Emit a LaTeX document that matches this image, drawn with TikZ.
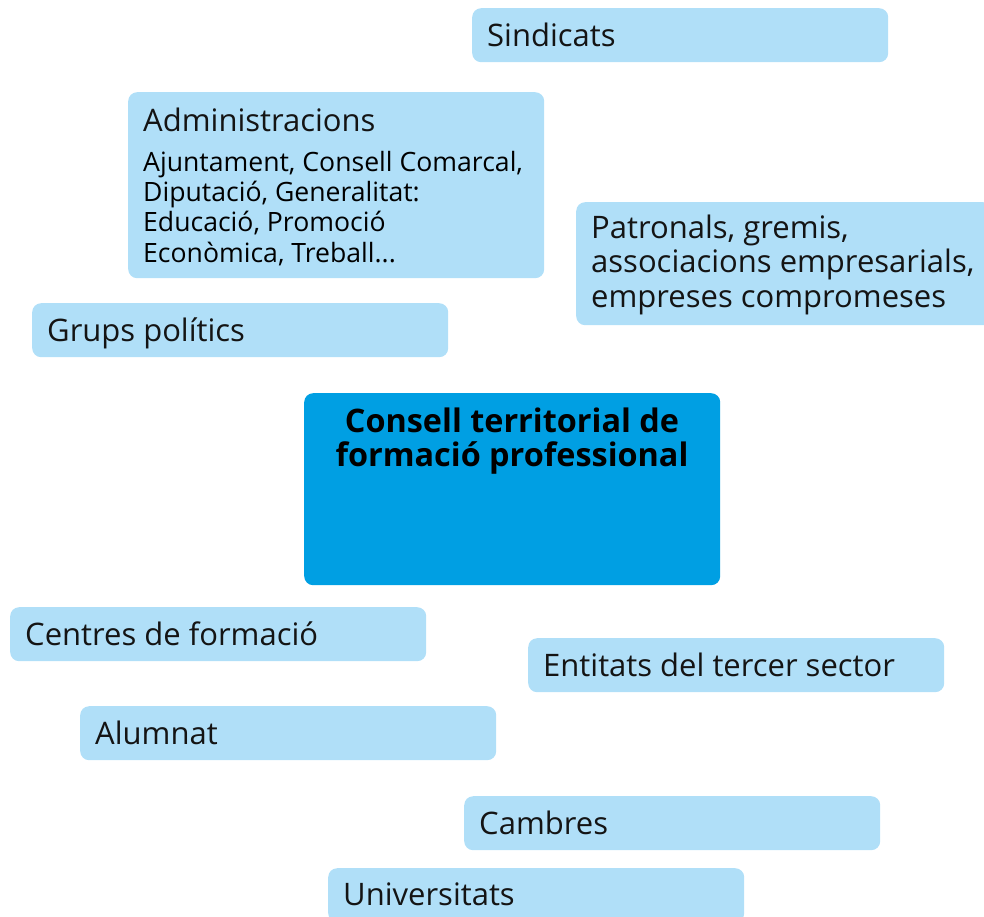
\documentclass[tikz,border=0pt]{standalone}
\usepackage{fontspec}
\setmainfont{Open Sans}
\definecolor{lightbox}{RGB}{176,223,248}
\definecolor{darkbox}{RGB}{0,159,227}
\definecolor{txt}{RGB}{20,20,20}
\begin{document}
\begin{tikzpicture}[x=1pt,y=-1pt,
  lbox/.style={fill=lightbox, draw=none, rounded corners=9pt, minimum width=416pt, minimum height=54pt, anchor=north west, inner sep=0pt},
  ltext/.style={anchor=base west, inner sep=0pt, text=txt, font=\fontsize{31}{34.5}\selectfont, align=left},
  stext/.style={anchor=base west, inner sep=0pt, text=black, font=\fontsize{26.6}{30.3}\selectfont, align=left},
  ttext/.style={anchor=base, inner sep=0pt, text=black, font=\fontsize{32.4}{34}\selectfont\bfseries, align=center}]
\useasboundingbox (0,0) rectangle (984,917);
% boxes
\node[lbox] (sind) at (472,8) {};
\node[lbox, minimum height=186pt] (admin) at (128,92) {};
\node[lbox, minimum height=123pt] (patr) at (576,202) {};
\node[lbox] (grups) at (32,303) {};
\node[fill=darkbox, draw=none, rounded corners=9pt, minimum width=416pt, minimum height=192pt, anchor=north west, inner sep=0pt] (cons) at (304,393) {};
\node[lbox] (centres) at (10,607) {};
\node[lbox] (entitats) at (528,638) {};
\node[lbox] (alum) at (80,706) {};
\node[lbox] (camb) at (464,796) {};
\node[lbox] (univ) at (328,868) {};
% texts (multi-line nodes: base anchor is the last line's baseline)
\node[ltext] (sindt) at (487,47) {Sindicats};
\node[ltext] (admint) at (143,132) {Administracions};
\node[stext] (admins) at (143,262) {Ajuntament, Consell Comarcal,\\Diputació, Generalitat:\\Educació, Promoció\\Econòmica, Treball...};
\node[ltext] (patrt) at (591,307) {Patronals, gremis,\\associacions empresarials,\\empreses compromeses};
\node[ltext] (grupst) at (47,341) {Grups polítics};
\node[ttext] (const) at (512,466) {Consell territorial de\\formació professional};
\node[ltext] (centrest) at (25,645) {Centres de formació};
\node[ltext] (entitatst) at (543,676) {Entitats del tercer sector};
\node[ltext] (alumt) at (95,744) {Alumnat};
\node[ltext] (cambt) at (479,834) {Cambres};
\node[ltext] (univt) at (343,905) {Universitats};
\end{tikzpicture}
\end{document}
